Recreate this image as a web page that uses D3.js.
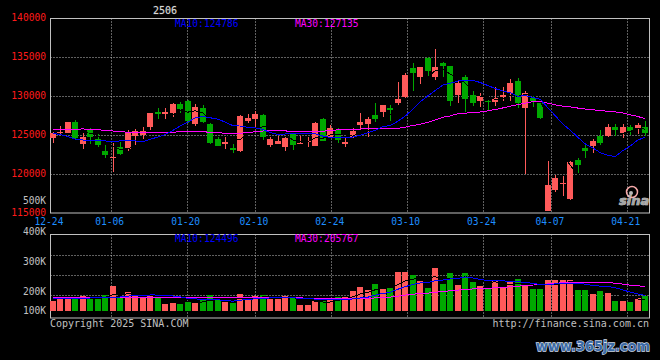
<!DOCTYPE html>
<html><head><meta charset="utf-8">
<script src="https://cdn.jsdelivr.net/npm/d3@7"></script>
<style>html,body{margin:0;padding:0;background:#000;}svg{display:block}</style>
</head><body>
<svg id="c" width="660" height="360"></svg>
<script>
const title = "2506";
const dates = ["12-24","12-25","12-26","12-27","12-30","12-31","01-02","01-03","01-06","01-07",
"01-08","01-09","01-10","01-13","01-14","01-15","01-16","01-17","01-20","01-21",
"01-22","01-23","01-24","01-27","02-05","02-06","02-07","02-10","02-11","02-12",
"02-13","02-14","02-17","02-18","02-19","02-20","02-21","02-24","02-25","02-26",
"02-27","02-28","03-03","03-04","03-05","03-06","03-07","03-10","03-11","03-12",
"03-13","03-14","03-17","03-18","03-19","03-20","03-21","03-24","03-25","03-26",
"03-27","03-28","03-31","04-01","04-02","04-03","04-07","04-08","04-09","04-10",
"04-11","04-14","04-15","04-16","04-17","04-18","04-21","04-22","04-23","04-24"];
const open = [124670,125230,125270,126690,123900,125720,124460,123000,122130,123480,
123280,124950,124980,125980,127910,127650,127780,129000,129420,126430,
128520,126470,124530,123920,123310,122960,126850,127070,127580,123730,
123900,123440,125180,123950,124080,123600,127070,124800,125660,123860,
124800,126360,126430,127580,128010,128520,129090,129900,133580,132500,
134940,132500,134300,133880,130150,132460,130150,129410,129420,129250,
129920,130410,131950,128520,129830,129130,115300,117950,118690,116770,
121810,123410,123540,124890,124910,126040,125270,126040,125790,126040];
const high = [125340,126170,126720,126900,125440,125920,125080,123730,124050,124120,
125660,125850,125980,127840,128440,128440,129130,129250,129570,129000,
128870,126560,124700,124820,123920,127520,127650,128160,127650,124800,
124890,124700,125270,124890,124800,126690,127140,126300,125880,124590,
125880,127880,127290,129090,128870,128870,131860,132940,134260,133790,
134970,136060,134430,133910,131990,132720,130700,130450,129450,131180,
131220,132180,132360,130700,130150,129160,121720,119940,119750,121720,
122020,123730,124440,125660,126430,126430,126490,126300,126620,126810];
const low = [123950,125010,125210,124500,123260,123800,123510,122060,120300,122450,
122960,123730,124500,125720,127070,126940,127330,127800,126560,126170,
126560,123900,123540,123180,122700,122870,126620,126080,124370,123440,
123860,122900,123090,123920,123510,123540,124250,124760,123950,123510,
124590,125720,124720,126720,127290,126850,128870,129730,130700,131560,
132500,132080,132430,128740,129160,128010,128740,128610,128100,128740,
129380,129380,128440,120010,128650,127030,115300,117740,117180,116670,
120100,122000,122640,123730,124700,124950,124630,125020,125140,124890];
const close = [125230,125400,126650,124670,124720,124820,123770,122450,122190,122580,
125230,125530,125530,127780,127710,127970,129000,128320,126750,128570,
126720,123950,123630,124160,123090,127460,127260,127710,124760,124480,
124250,124630,123730,124050,124250,126600,124280,125950,124370,124160,
125590,126720,127070,127070,128870,128270,129640,132720,133020,133710,
133270,133710,133910,129420,131690,129640,129160,130020,129220,129730,
130110,131650,129160,130410,129380,127160,118600,119430,118810,121590,
121160,123000,124250,124030,126040,125700,126040,125500,126300,125310];
const volume = [153800,160150,160150,161260,172400,162380,162380,176860,209530,167950,
188000,175370,167950,179830,169430,143440,147160,143440,154580,150130,
156810,176120,161260,151980,147530,179830,169430,172400,176120,159410,
162380,172400,164230,138990,138990,152720,155320,164230,167950,167950,
191710,206560,194680,217700,197280,202110,262260,262260,248520,228840,
203220,277110,217700,258550,213990,258550,225130,210280,200990,231070,
205820,225130,234780,210280,199510,199510,232550,232550,232550,232550,
195420,195420,180570,190970,182800,153840,153840,150870,165720,172400];
// moving-average values before a full window exists
const ma10Head = [125210,125080,124820,124500,124370,124340,124280,124250,124210];
const ma30Head = [125750,125750,125750,125760,125790,125750,125680,125620,125530,125440,
125380,125340,125310,125300,125300,125340,125380,125430,125470,125470,
125440,125360,125300,125250,125220,125250,125320,125430,125530];
const volMa10Head = [162400,162400,162400,162400,164000,165000,165500,166000,166500];
const volMa30Head = [167600,167600,167600,167600,167600,167600,167600,167600,167600,167600,
167200,167200,167200,167200,167200,167200,167200,167200,166500,166300,
166100,165900,165800,165700,165600,165500,165400,165300,165300];

const priceTicks = [140000,135000,130000,125000,120000,115000];
const priceTickLabels = ["140000","135000","130000","125000","120000","115000"];
const volTicks = [400000,300000,200000,100000];
const volTickLabels = ["400K","300K","200K","100K"];
const strayLabel = "500K";
const dateTicks = ["12-24","01-06","01-20","02-10","02-24","03-10","03-24","04-07","04-21"];
const priceMaLabels = ["MA10:124786","MA30:127135"];
const volMaLabels = ["MA10:124496","MA30:205767"];
const copyright = "Copyright 2025 SINA.COM";
const siteUrl = "http://finance.sina.com.cn";
const watermark = "www.365jz.com";

function movingAvg(vals, n, head) {
  return vals.map((v, i) => i < n - 1 ? (head ? head[i] : null) : d3.mean(vals.slice(i - n + 1, i + 1)));
}

const svg = d3.select("#c");
const FONT = "'DejaVu Sans Mono', monospace";
const GREY = "#c0c0c0", RED = "#ff5a5a", GREEN = "#00a800";
const L = 50.5, R = 649.5, PT = 18.5, PB = 213, VT = 234.5, VB = 318;
const VBASE = 311;

svg.append("rect").attr("width", 660).attr("height", 360).attr("fill", "#000");

const x = d3.scaleBand().domain(dates).range([49, 649]).paddingInner(0.2).paddingOuter(0.1);
const gx = d3.scalePoint().domain(dates).range([50, 649.5]);
const y = d3.scaleLinear().domain([115000, 140000]).range([213, 18.3]);
const yv = d3.scaleLinear().domain([100000, 400000]).range([315.5, 234.7]);
const yvLabel = d3.scaleLinear().domain([100000, 400000]).range([324.7, 234.7]);
const vq = d3.scaleLinear().domain([0, 4]).range([234.7, 315.5]);

const cxOf = d => x(d) + x.bandwidth() / 2;
const bxOf = d => Math.round(cxOf(d) - 3);

// grids
const grid = svg.append("g").attr("stroke", GREY).attr("stroke-dasharray", "1,2").attr("stroke-width", 1);
priceTicks.slice(1, 5).forEach(v => {
  const yy = Math.round(y(v)) + 0.5;
  grid.append("line").attr("x1", L).attr("x2", R).attr("y1", yy).attr("y2", yy);
});
[1, 2, 3].forEach(k => {
  const yy = Math.round(vq(k)) + 0.5;
  grid.append("line").attr("x1", L).attr("x2", R).attr("y1", yy).attr("y2", yy);
});
dateTicks.slice(1).forEach(d => {
  const xx = Math.round(gx(d)) + 0.5;
  grid.append("line").attr("x1", xx).attr("x2", xx).attr("y1", PT).attr("y2", PB);
  grid.append("line").attr("x1", xx).attr("x2", xx).attr("y1", VT).attr("y2", VB);
});

// borders
svg.append("rect").attr("x", L).attr("y", PT).attr("width", R - L).attr("height", PB - PT)
  .attr("fill", "none").attr("stroke", GREY);
svg.append("rect").attr("x", L).attr("y", VT).attr("width", R - L).attr("height", VB - VT)
  .attr("fill", "none").attr("stroke", GREY);

// text helpers
function txt(s, xx, yy, col, anchor, size) {
  return svg.append("text").attr("x", xx).attr("y", yy).attr("fill", col)
    .attr("font-family", FONT).attr("font-size", size || 9.6)
    .attr("text-anchor", anchor || "start").text(s);
}
// title
svg.append("text").attr("x", 165).attr("y", 14).attr("text-anchor", "middle")
  .attr("font-family", FONT).attr("font-size", 10).attr("fill", "#d8d8d8")
  .attr("stroke", "#5a5a5a").attr("stroke-width", 0.5).attr("paint-order", "stroke").text(title);

// price axis labels
priceTicks.forEach((v, i) => txt(priceTickLabels[i], 46, y(v) + 2.5, "#ff1a1a", "end"));
txt(strayLabel, 46, 204, GREY, "end");
// volume axis labels
volTicks.forEach((v, i) => txt(volTickLabels[i], 46, Math.min(yvLabel(v), 314.3), GREY, "end"));
// date labels
dateTicks.forEach(d => txt(d, gx(d) - 1, 225, "#1e8fff", "middle"));
// MA labels
txt(priceMaLabels[0], 175, 27.3, "#0000ff");
txt(priceMaLabels[1], 295, 27.3, "#ff00ff");
txt(volMaLabels[0], 175, 242, "#0000ff");
txt(volMaLabels[1], 295, 242, "#ff00ff");
txt(copyright, 50, 327.3, GREY, "start", 10);
txt(siteUrl, 649, 327.3, GREY, "end", 10);

// candles
const cg = svg.append("g").attr("shape-rendering", "crispEdges");
dates.forEach((d, i) => {
  const up = close[i] >= open[i];
  const col = up ? RED : GREEN;
  const bx = bxOf(d);
  const top = Math.round(y(Math.max(open[i], close[i])));
  const bot = Math.round(y(Math.min(open[i], close[i])));
  const hy = Math.round(y(high[i])), ly = Math.round(y(low[i]));
  cg.append("rect").attr("x", bx + 3).attr("width", 1).attr("y", hy).attr("height", Math.max(1, ly - hy)).attr("fill", col);
  cg.append("rect").attr("x", bx).attr("width", 6).attr("y", top).attr("height", Math.max(1, bot - top)).attr("fill", col);
});

// volume bars
dates.forEach((d, i) => {
  const up = close[i] >= open[i];
  const top = Math.round(yv(volume[i]));
  cg.append("rect").attr("x", bxOf(d)).attr("width", 6).attr("y", top).attr("height", VBASE - top)
    .attr("fill", up ? RED : GREEN);
});

// moving-average lines
const ma5 = movingAvg(close, 5), ma10 = movingAvg(close, 10, ma10Head), ma30 = movingAvg(close, 30, ma30Head);
const vma5 = movingAvg(volume, 5), vma10 = movingAvg(volume, 10, volMa10Head), vma30 = movingAvg(volume, 30, volMa30Head);
function drawLine(vals, scale, col) {
  const line = d3.line().defined(v => v != null).x((v, i) => cxOf(dates[i])).y(v => scale(v));
  svg.append("path").attr("d", line(vals)).attr("fill", "none").attr("stroke", col)
    .attr("stroke-width", 1).attr("shape-rendering", "crispEdges");
}
drawLine(ma5, y, "#000");
drawLine(ma30, y, "#ff00ff");
drawLine(ma10, y, "#0000ff");
drawLine(vma5, yv, "#000");
drawLine(vma30, yv, "#ff00ff");
drawLine(vma10, yv, "#0000ff");

// sina logo watermark
svg.append("circle").attr("cx", 632).attr("cy", 192).attr("r", 5.5).attr("fill", "none")
  .attr("stroke", "#f4a8a8").attr("stroke-width", 1.5);
svg.append("circle").attr("cx", 631).attr("cy", 193).attr("r", 2).attr("fill", "#b8b8b8");
svg.append("text").attr("x", 619).attr("y", 205).attr("font-family", "'DejaVu Sans', sans-serif")
  .attr("font-style", "italic").attr("font-weight", "bold").attr("font-size", 13)
  .attr("fill", "#a8a8a8").attr("stroke", "#e6e6e6").attr("stroke-width", 0.6)
  .attr("paint-order", "stroke").text("sina");

// site watermark
svg.append("text").attr("x", 536).attr("y", 351).attr("font-family", "'DejaVu Sans', sans-serif")
  .attr("font-weight", "bold").attr("font-size", 13.5).attr("fill", "#3b6aa6")
  .attr("stroke", "#d0dcea").attr("stroke-width", 1.3).attr("paint-order", "stroke")
  .attr("textLength", 114).attr("lengthAdjust", "spacingAndGlyphs").text(watermark);
</script>
</body></html>
